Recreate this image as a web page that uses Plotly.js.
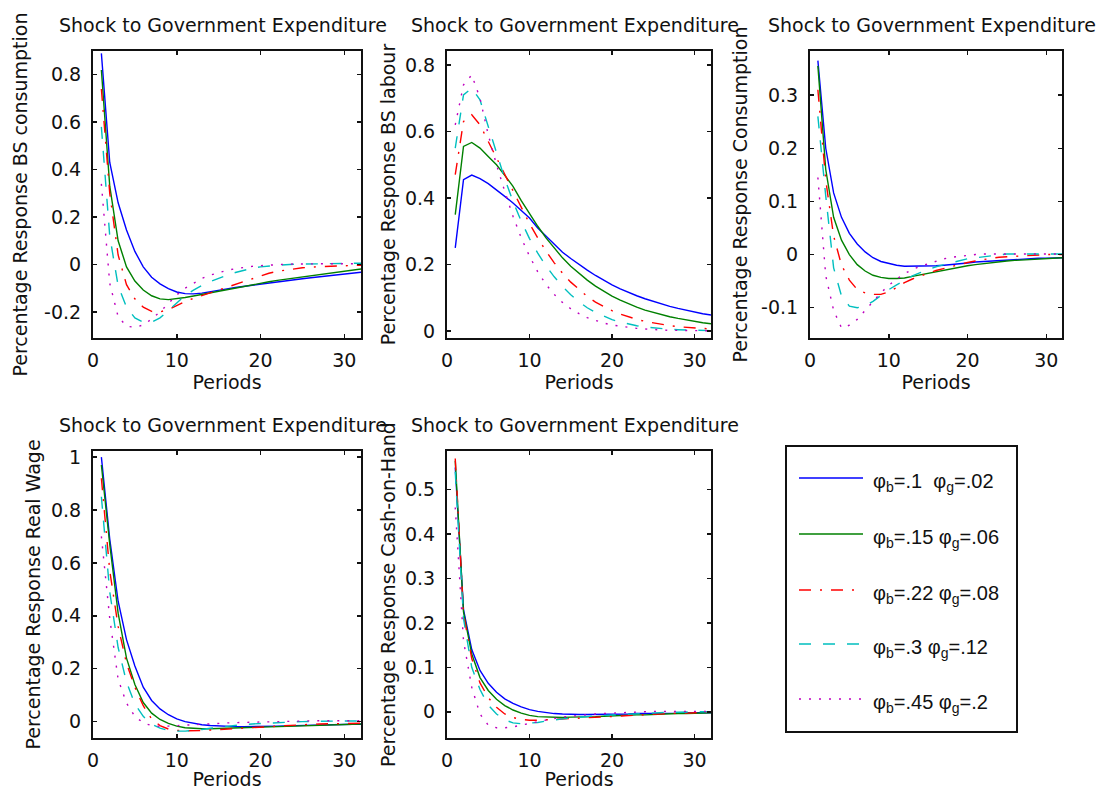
<!DOCTYPE html>
<html><head><meta charset="utf-8">
<script src="https://cdn.plot.ly/plotly-3.0.1.min.js"></script>
<style>html,body{margin:0;padding:0;background:#fff}#chart{width:1096px;height:790px}</style>
</head><body><div id="chart"></div>
<script>
// ---------------- data ----------------
const periods = [1,2,3,4,5,6,7,8,9,10,11,12,13,14,15,16,17,18,19,20,21,22,23,24,25,26,27,28,29,30,31,32];
const seriesNames = [
  'φ<sub>b</sub>=.1  φ<sub>g</sub>=.02',
  'φ<sub>b</sub>=.15 φ<sub>g</sub>=.06',
  'φ<sub>b</sub>=.22 φ<sub>g</sub>=.08',
  'φ<sub>b</sub>=.3 φ<sub>g</sub>=.12',
  'φ<sub>b</sub>=.45 φ<sub>g</sub>=.2'
];
const panelTitle = 'Shock to Government Expenditure';
const xTitle = 'Periods';
const yTitles = [
  'Percentage Response BS consumption',
  'Percentage Response BS labour',
  'Percentage Response Consumption',
  'Percentage Response Real Wage',
  'Percentage Response Cash-on-Hand'
];
const xTickVals = [0, 10, 20, 30];
const xTickText = ['0', '10', '20', '30'];
const yTickVals1 = [-0.2, 0, 0.2, 0.4, 0.6, 0.8];
const yTickText1 = ['-0.2', '0', '0.2', '0.4', '0.6', '0.8'];
const yTickVals2 = [0, 0.2, 0.4, 0.6, 0.8];
const yTickText2 = ['0', '0.2', '0.4', '0.6', '0.8'];
const yTickVals3 = [-0.1, 0, 0.1, 0.2, 0.3];
const yTickText3 = ['-0.1', '0', '0.1', '0.2', '0.3'];
const yTickVals4 = [0, 0.2, 0.4, 0.6, 0.8, 1];
const yTickText4 = ['0', '0.2', '0.4', '0.6', '0.8', '1'];
const yTickVals5 = [0, 0.1, 0.2, 0.3, 0.4, 0.5];
const yTickText5 = ['0', '0.1', '0.2', '0.3', '0.4', '0.5'];

// Panel 1: BS consumption
const bsConsS1 = [0.89,0.43,0.26,0.145,0.055,-0.01,-0.054,-0.082,-0.102,-0.116,-0.123,-0.124,-0.121,-0.116,-0.109,-0.103,-0.097,-0.092,-0.087,-0.083,-0.078,-0.074,-0.069,-0.065,-0.06,-0.056,-0.052,-0.048,-0.044,-0.04,-0.036,-0.033];
const bsConsS2 = [0.82,0.33,0.1,-0.01,-0.07,-0.108,-0.132,-0.145,-0.148,-0.145,-0.139,-0.133,-0.126,-0.119,-0.112,-0.105,-0.098,-0.091,-0.085,-0.079,-0.073,-0.067,-0.062,-0.056,-0.051,-0.046,-0.041,-0.036,-0.032,-0.027,-0.023,-0.019];
const bsConsS3 = [0.74,0.3,0.04,-0.085,-0.145,-0.18,-0.198,-0.2,-0.19,-0.172,-0.156,-0.143,-0.131,-0.12,-0.108,-0.095,-0.082,-0.07,-0.058,-0.047,-0.037,-0.029,-0.023,-0.018,-0.014,-0.011,-0.009,-0.007,-0.006,-0.005,-0.004,-0.003];
const bsConsS4 = [0.58,0.12,-0.09,-0.18,-0.225,-0.243,-0.243,-0.225,-0.195,-0.162,-0.13,-0.108,-0.088,-0.072,-0.058,-0.045,-0.034,-0.024,-0.016,-0.01,-0.006,-0.003,-0.001,0.001,0.002,0.003,0.004,0.004,0.005,0.005,0.005,0.005];
const bsConsS5 = [0.34,-0.08,-0.22,-0.26,-0.265,-0.255,-0.23,-0.2,-0.165,-0.128,-0.1,-0.078,-0.059,-0.045,-0.034,-0.025,-0.018,-0.012,-0.008,-0.005,-0.002,0,0.001,0.002,0.003,0.003,0.003,0.003,0.003,0.003,0.003,0.003];

// Panel 2: BS labour
const bsLabS1 = [0.25,0.455,0.469,0.458,0.443,0.425,0.405,0.385,0.363,0.34,0.31,0.285,0.26,0.237,0.218,0.2,0.183,0.167,0.152,0.139,0.127,0.116,0.106,0.097,0.089,0.081,0.074,0.068,0.062,0.057,0.052,0.048];
const bsLabS2 = [0.35,0.555,0.567,0.55,0.525,0.5,0.468,0.435,0.392,0.352,0.315,0.28,0.25,0.22,0.195,0.173,0.153,0.135,0.119,0.105,0.093,0.082,0.072,0.063,0.056,0.049,0.043,0.038,0.033,0.029,0.025,0.022];
const bsLabS3 = [0.47,0.63,0.65,0.62,0.57,0.52,0.47,0.418,0.37,0.323,0.28,0.24,0.205,0.174,0.147,0.124,0.104,0.087,0.073,0.061,0.051,0.042,0.035,0.029,0.024,0.02,0.016,0.013,0.011,0.009,0.007,0.006];
const bsLabS4 = [0.55,0.71,0.73,0.695,0.615,0.535,0.458,0.39,0.33,0.278,0.234,0.196,0.163,0.134,0.109,0.088,0.07,0.056,0.044,0.034,0.027,0.021,0.016,0.012,0.009,0.007,0.005,0.004,0.003,0.002,0.002,0.001];
const bsLabS5 = [0.62,0.74,0.77,0.7,0.59,0.5,0.42,0.345,0.28,0.225,0.178,0.14,0.11,0.086,0.067,0.052,0.04,0.031,0.024,0.018,0.014,0.01,0.008,0.006,0.004,0.003,0.002,0.002,0.001,0.001,0.001,0.001];

// Panel 3: Consumption
const consS1 = [0.365,0.2,0.116,0.07,0.04,0.02,0.005,-0.006,-0.013,-0.017,-0.02,-0.022,-0.022,-0.022,-0.022,-0.021,-0.02,-0.019,-0.017,-0.016,-0.014,-0.013,-0.012,-0.011,-0.01,-0.009,-0.008,-0.008,-0.007,-0.007,-0.006,-0.006];
const consS2 = [0.355,0.16,0.07,0.027,0,-0.019,-0.031,-0.039,-0.043,-0.045,-0.045,-0.044,-0.041,-0.038,-0.035,-0.032,-0.029,-0.026,-0.023,-0.021,-0.019,-0.017,-0.015,-0.013,-0.012,-0.011,-0.01,-0.009,-0.008,-0.007,-0.007,-0.006];
const consS3 = [0.31,0.14,0.035,-0.02,-0.048,-0.066,-0.072,-0.075,-0.075,-0.07,-0.062,-0.053,-0.046,-0.04,-0.035,-0.03,-0.026,-0.022,-0.018,-0.015,-0.012,-0.009,-0.007,-0.005,-0.004,-0.003,-0.002,-0.001,0,0,0,0];
const consS4 = [0.26,0.11,-0.025,-0.078,-0.097,-0.1,-0.097,-0.088,-0.077,-0.066,-0.057,-0.048,-0.04,-0.034,-0.028,-0.023,-0.019,-0.015,-0.011,-0.008,-0.006,-0.004,-0.002,0,0.001,0.001,0.001,0.001,0.001,0.001,0.001,0.001];
const consS5 = [0.145,-0.04,-0.105,-0.138,-0.133,-0.122,-0.105,-0.088,-0.072,-0.058,-0.046,-0.036,-0.028,-0.022,-0.017,-0.012,-0.008,-0.005,-0.003,-0.001,0,0.001,0.001,0.001,0.001,0.001,0.001,0.001,0.001,0.001,0.001,0.001];

// Panel 4: Real Wage
const wageS1 = [1.0,0.69,0.455,0.31,0.21,0.13,0.08,0.048,0.026,0.01,0,-0.007,-0.012,-0.015,-0.017,-0.018,-0.019,-0.019,-0.019,-0.018,-0.018,-0.017,-0.016,-0.015,-0.014,-0.013,-0.012,-0.012,-0.011,-0.011,-0.01,-0.01];
const wageS2 = [0.97,0.67,0.41,0.24,0.14,0.072,0.032,0.008,-0.007,-0.017,-0.023,-0.026,-0.027,-0.027,-0.026,-0.025,-0.024,-0.023,-0.022,-0.021,-0.02,-0.019,-0.018,-0.017,-0.016,-0.015,-0.014,-0.013,-0.012,-0.011,-0.01,-0.009];
const wageS3 = [0.92,0.57,0.36,0.22,0.13,0.06,0.01,-0.015,-0.028,-0.033,-0.035,-0.035,-0.034,-0.032,-0.03,-0.028,-0.026,-0.024,-0.022,-0.02,-0.018,-0.016,-0.014,-0.012,-0.011,-0.01,-0.009,-0.008,-0.007,-0.007,-0.006,-0.006];
const wageS4 = [0.85,0.49,0.28,0.15,0.067,0.02,-0.01,-0.025,-0.033,-0.036,-0.036,-0.034,-0.03,-0.025,-0.021,-0.017,-0.014,-0.011,-0.009,-0.007,-0.005,-0.003,-0.002,-0.001,0,0.001,0.001,0.002,0.002,0.002,0.002,0.002];
const wageS5 = [0.7,0.39,0.16,0.07,0.02,-0.005,-0.015,-0.018,-0.017,-0.015,-0.013,-0.011,-0.009,-0.007,-0.006,-0.005,-0.004,-0.003,-0.002,-0.001,0,0.001,0.002,0.002,0.003,0.003,0.003,0.003,0.003,0.003,0.003,0.003];

// Panel 5: Cash-on-Hand
const cashS1 = [0.55,0.23,0.14,0.093,0.064,0.044,0.029,0.019,0.011,0.005,0.001,-0.002,-0.004,-0.005,-0.006,-0.006,-0.006,-0.006,-0.006,-0.005,-0.005,-0.005,-0.004,-0.004,-0.004,-0.003,-0.003,-0.003,-0.002,-0.002,-0.002,-0.002];
const cashS2 = [0.565,0.225,0.13,0.077,0.048,0.028,0.014,0.004,-0.003,-0.008,-0.011,-0.012,-0.013,-0.013,-0.012,-0.012,-0.011,-0.011,-0.01,-0.009,-0.009,-0.008,-0.007,-0.007,-0.006,-0.005,-0.005,-0.004,-0.004,-0.003,-0.003,-0.002];
const cashS3 = [0.57,0.22,0.12,0.065,0.032,0.01,-0.005,-0.013,-0.017,-0.019,-0.019,-0.018,-0.017,-0.016,-0.015,-0.014,-0.013,-0.012,-0.011,-0.01,-0.009,-0.008,-0.007,-0.006,-0.005,-0.005,-0.004,-0.003,-0.003,-0.002,-0.002,-0.001];
const cashS4 = [0.54,0.21,0.1,0.05,0.015,-0.005,-0.018,-0.025,-0.027,-0.026,-0.024,-0.021,-0.018,-0.016,-0.014,-0.012,-0.01,-0.009,-0.008,-0.007,-0.006,-0.005,-0.004,-0.003,-0.002,-0.002,-0.001,-0.001,0,0,0,0];
const cashS5 = [0.46,0.16,0.055,-0.005,-0.03,-0.036,-0.036,-0.034,-0.03,-0.026,-0.022,-0.018,-0.015,-0.012,-0.01,-0.008,-0.006,-0.005,-0.004,-0.003,-0.002,-0.001,0,0,0.001,0.001,0.001,0.001,0.001,0.001,0.001,0.001];

// ---------------- styles / layout ----------------
const W = 1096, H = 790;
const FONT = 'DejaVu Sans, Arial, sans-serif';
const LEGFONT = 'Liberation Sans, Arial, sans-serif';
const FS = 19;
const TXT = '#111111';
const lineColors = ['#0000ff', '#008000', '#ff0000', '#00bfbf', '#bf00bf'];
const lineDashes = ['solid', 'solid', '12px,9px,2px,9px', '12px,12px', '2px,8px'];
const LW = 1.4;

const panels = [
  {data: [bsConsS1, bsConsS2, bsConsS3, bsConsS4, bsConsS5], box: [93, 361, 51, 338], yr: [-0.31, 0.9], tv: yTickVals1, tt: yTickText1, ysd: 11},
  {data: [bsLabS1, bsLabS2, bsLabS3, bsLabS4, bsLabS5], box: [447, 711, 51, 338], yr: [-0.021, 0.842], tv: yTickVals2, tt: yTickText2, ysd: 4},
  {data: [consS1, consS2, consS3, consS4, consS5], box: [810, 1062, 51, 338], yr: [-0.157, 0.383], tv: yTickVals3, tt: yTickText3, ysd: 8},
  {data: [wageS1, wageS2, wageS3, wageS4, wageS5], box: [93, 361, 451, 738], yr: [-0.062, 1.023], tv: yTickVals4, tt: yTickText4, ysd: 5},
  {data: [cashS1, cashS2, cashS3, cashS4, cashS5], box: [447, 711, 451, 738], yr: [-0.059, 0.587], tv: yTickVals5, tt: yTickText5, ysd: 4}
];

const px = v => v / W;
const py = v => 1 - v / H;

const traces = [];
const layout = {
  width: W, height: H, autosize: false,
  margin: {l: 0, r: 0, t: 0, b: 0},
  paper_bgcolor: '#ffffff', plot_bgcolor: '#ffffff',
  showlegend: false,
  font: {family: FONT, size: FS, color: TXT},
  annotations: [], shapes: []
};

panels.forEach((p, i) => {
  const sfx = i === 0 ? '' : String(i + 1);
  const [x0, x1, y0, y1] = p.box;
  p.data.forEach((ys, j) => {
    traces.push({
      x: periods, y: ys, type: 'scatter', mode: 'lines',
      xaxis: 'x' + sfx, yaxis: 'y' + sfx,
      name: seriesNames[j].replace(/<\/?sub>/g, ''),
      line: {color: lineColors[j], width: LW, dash: lineDashes[j]},
      hoverinfo: 'skip', showlegend: false
    });
  });
  const common = {
    showline: true, linecolor: '#111', linewidth: 2, mirror: 'ticks',
    ticks: 'inside', ticklen: 4, tickwidth: 1.5, tickcolor: '#111',
    showgrid: false, zeroline: false, fixedrange: true, automargin: false,
    tickfont: {family: FONT, size: FS, color: TXT}, tickmode: 'array'
  };
  layout['xaxis' + sfx] = Object.assign({}, common, {
    domain: [px(x0), px(x1)], range: [0, 32], anchor: 'y' + sfx,
    tickvals: xTickVals, ticktext: xTickText, ticklabelstandoff: 4,
    title: {text: xTitle, standoff: 3, font: {family: FONT, size: FS, color: TXT}}
  });
  layout['yaxis' + sfx] = Object.assign({}, common, {
    domain: [py(y1), py(y0)], range: p.yr, anchor: 'x' + sfx,
    tickvals: p.tv, ticktext: p.tt, ticklabelstandoff: 6,
    title: {text: yTitles[i], standoff: p.ysd, font: {family: FONT, size: FS, color: TXT}}
  });
  const cx = (x0 + x1) / 2 - 4;
  layout.annotations.push({
    text: panelTitle, xref: 'paper', yref: 'paper', x: px(cx), y: py(y0 - 26),
    xanchor: 'center', yanchor: 'middle', showarrow: false,
    font: {family: FONT, size: FS, color: TXT}
  });
});

// legend box (separate panel, as in the original figure)
const LEG = {x0: 786, x1: 1017, y0: 446, y1: 732, lx0: 799, lx1: 863, tx: 871, rows: [478, 534, 590, 644, 699]};
layout.shapes.push({type: 'rect', xref: 'paper', yref: 'paper',
  x0: px(LEG.x0), x1: px(LEG.x1), y0: py(LEG.y1), y1: py(LEG.y0),
  line: {color: '#111', width: 2}, fillcolor: 'rgba(0,0,0,0)'});
seriesNames.forEach((nm, j) => {
  layout.shapes.push({type: 'line', xref: 'paper', yref: 'paper',
    x0: px(LEG.lx0), x1: px(LEG.lx1), y0: py(LEG.rows[j]), y1: py(LEG.rows[j]),
    line: {color: lineColors[j], width: LW, dash: lineDashes[j]}});
  layout.annotations.push({text: nm, xref: 'paper', yref: 'paper',
    x: px(LEG.tx), y: py(LEG.rows[j] + 4), xanchor: 'left', yanchor: 'middle', showarrow: false,
    font: {family: LEGFONT, size: 20, color: TXT}});
});

Plotly.newPlot('chart', traces, layout, {staticPlot: true, displayModeBar: false});
</script>
</body></html>
